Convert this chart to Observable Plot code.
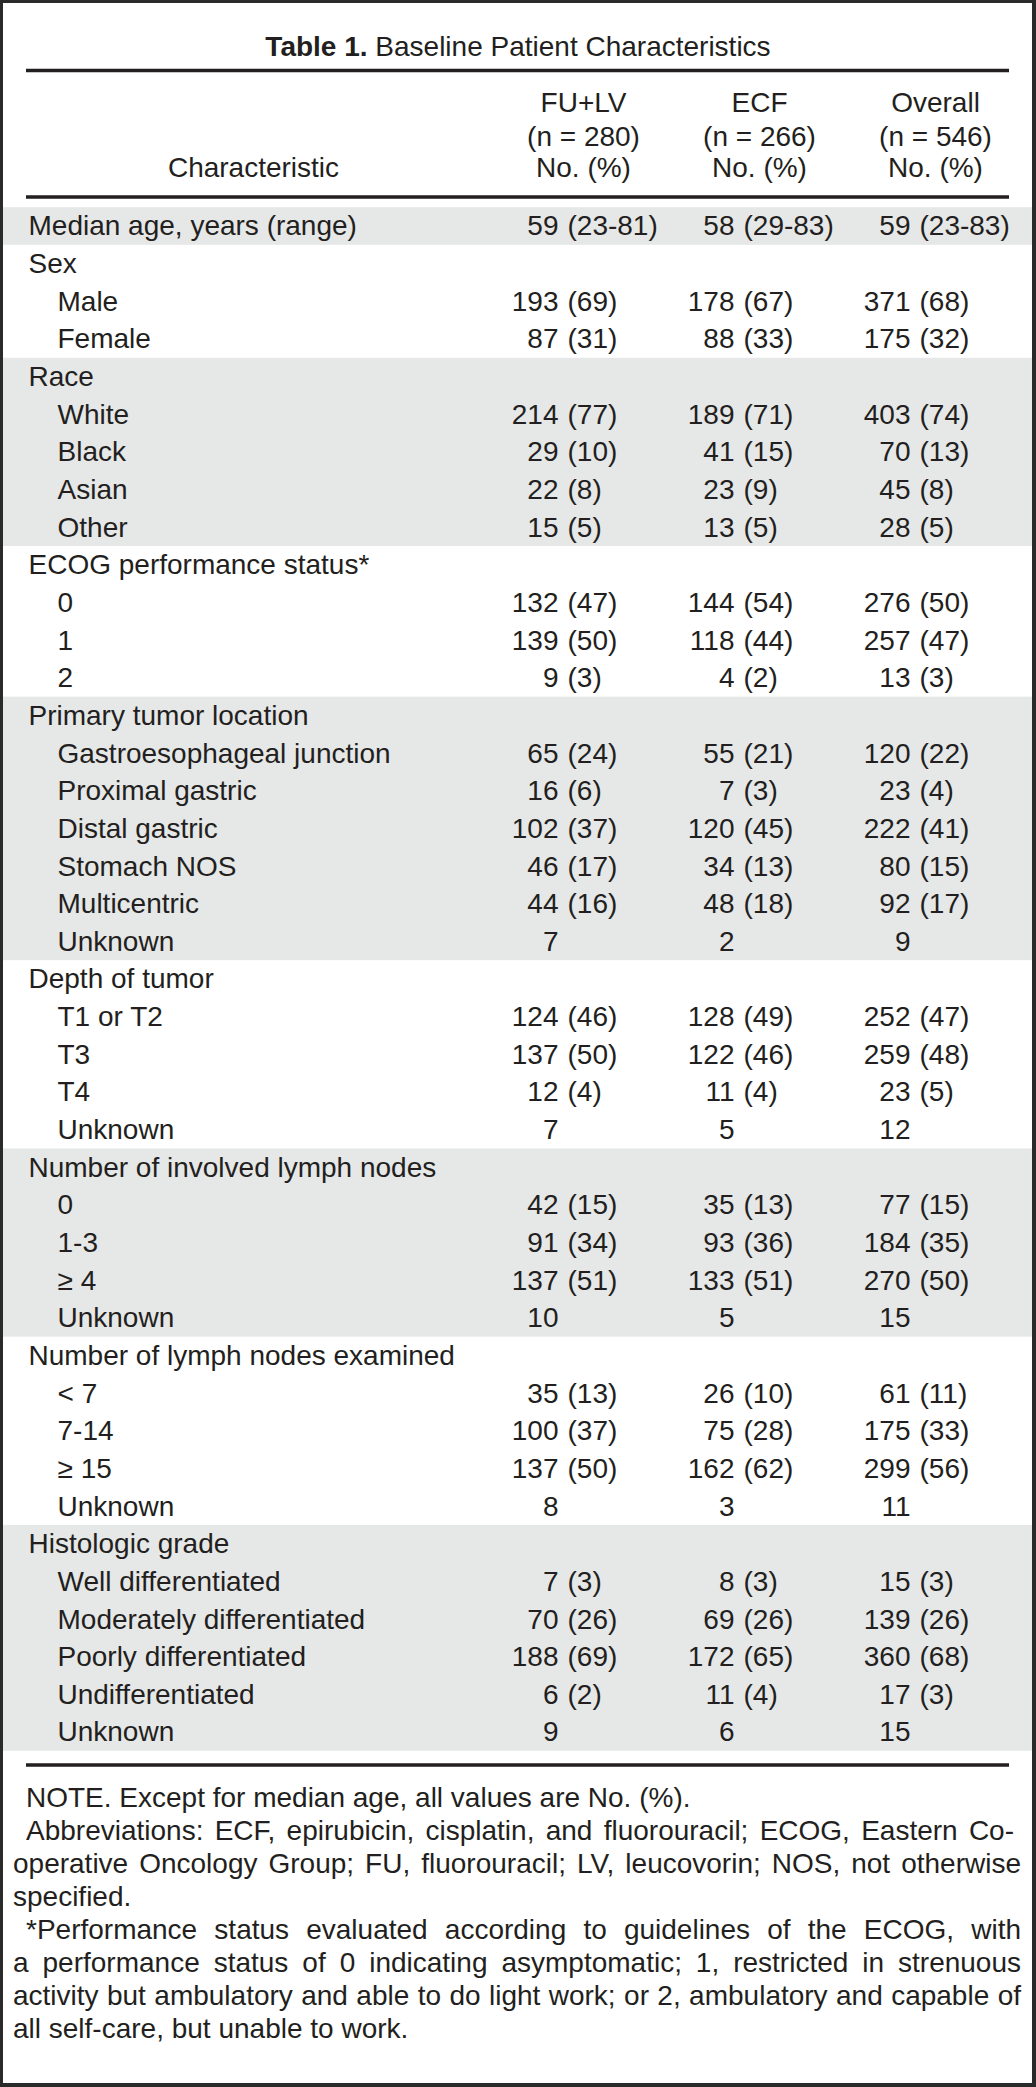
<!DOCTYPE html>
<html>
<head>
<meta charset="utf-8">
<script src="https://cdn.jsdelivr.net/npm/d3@7"></script>
<script src="https://cdn.jsdelivr.net/npm/@observablehq/plot@0.6"></script>
<style>
  html, body { margin: 0; padding: 0; background: #fff; }
  body { width: 1036px; height: 2087px; position: relative; overflow: hidden;
         font-family: "Liberation Sans", Arial, Helvetica, sans-serif; color: #231f20; }
  #frame { position: absolute; left: 0; top: 0; width: 1036px; height: 2087px; box-sizing: border-box;
           border-style: solid; border-color: #2a2a2a; border-width: 3px 4px 4px 3px; z-index: 5; pointer-events: none; }
  #title { position: absolute; left: 0; top: 33px; width: 1036px; text-align: center; font-size: 28px; line-height: 28px; }
  #title b { font-weight: bold; }
  #chart { position: absolute; left: 0; top: 62px; }
  #notes { position: absolute; left: 13px; top: 1781px; width: 1008px; font-size: 28px; line-height: 33px; }
  #notes div { white-space: normal; }
  #notes .j { text-align: justify; text-align-last: justify; }
  #notes .in { padding-left: 13px; }
  #notes .short { padding-right: 7px; }
</style>
</head>
<body>
<div id="title"><b>Table 1.</b> Baseline Patient Characteristics</div>
<div id="chart"></div>
<div id="notes">
  <div class="in">NOTE. Except for median age, all values are No. (%).</div>
  <div class="in j short">Abbreviations: ECF, epirubicin, cisplatin, and fluorouracil; ECOG, Eastern Co-</div>
  <div class="j">operative Oncology Group; FU, fluorouracil; LV, leucovorin; NOS, not otherwise</div>
  <div>specified.</div>
  <div class="in j">*Performance status evaluated according to guidelines of the ECOG, with</div>
  <div class="j">a performance status of 0 indicating asymptomatic; 1, restricted in strenuous</div>
  <div class="j">activity but ambulatory and able to do light work; or 2, ambulatory and capable of</div>
  <div>all self-care, but unable to work.</div>
</div>
<div id="frame"></div>
<script>
// ---- Data ----
const columns = ["FU+LV", "ECF", "Overall"];
const columnN = [280, 266, 546];

const characteristics = [
  "Median age, years (range)",
  "Sex", "Male", "Female",
  "Race", "White", "Black", "Asian", "Other",
  "ECOG performance status*", "0", "1", "2",
  "Primary tumor location", "Gastroesophageal junction", "Proximal gastric", "Distal gastric", "Stomach NOS", "Multicentric", "Unknown",
  "Depth of tumor", "T1 or T2", "T3", "T4", "Unknown",
  "Number of involved lymph nodes", "0", "1-3", "\u2265 4", "Unknown",
  "Number of lymph nodes examined", "< 7", "7-14", "\u2265 15", "Unknown",
  "Histologic grade", "Well differentiated", "Moderately differentiated", "Poorly differentiated", "Undifferentiated", "Unknown"
];
const rowKind = [
  "group",
  "group", "item", "item",
  "group", "item", "item", "item", "item",
  "group", "item", "item", "item",
  "group", "item", "item", "item", "item", "item", "item",
  "group", "item", "item", "item", "item",
  "group", "item", "item", "item", "item",
  "group", "item", "item", "item", "item",
  "group", "item", "item", "item", "item", "item"
];

const fuLvNo  = [59, null, 193, 87, null, 214, 29, 22, 15, null, 132, 139, 9, null, 65, 16, 102, 46, 44, 7, null, 124, 137, 12, 7, null, 42, 91, 137, 10, null, 35, 100, 137, 8, null, 7, 70, 188, 6, 9];
const fuLvPct = ["23-81", null, 69, 31, null, 77, 10, 8, 5, null, 47, 50, 3, null, 24, 6, 37, 17, 16, null, null, 46, 50, 4, null, null, 15, 34, 51, null, null, 13, 37, 50, null, null, 3, 26, 69, 2, null];

const ecfNo  = [58, null, 178, 88, null, 189, 41, 23, 13, null, 144, 118, 4, null, 55, 7, 120, 34, 48, 2, null, 128, 122, 11, 5, null, 35, 93, 133, 5, null, 26, 75, 162, 3, null, 8, 69, 172, 11, 6];
const ecfPct = ["29-83", null, 67, 33, null, 71, 15, 9, 5, null, 54, 44, 2, null, 21, 3, 45, 13, 18, null, null, 49, 46, 4, null, null, 13, 36, 51, null, null, 10, 28, 62, null, null, 3, 26, 65, 4, null];

const overallNo  = [59, null, 371, 175, null, 403, 70, 45, 28, null, 276, 257, 13, null, 120, 23, 222, 80, 92, 9, null, 252, 259, 23, 12, null, 77, 184, 270, 15, null, 61, 175, 299, 11, null, 15, 139, 360, 17, 15];
const overallPct = ["23-83", null, 68, 32, null, 74, 13, 8, 5, null, 50, 47, 3, null, 22, 4, 41, 15, 17, null, null, 47, 48, 5, null, null, 15, 35, 50, null, null, 11, 33, 56, null, null, 3, 26, 68, 3, null];

// ---- Build tables ----
const countsByCol = [fuLvNo, ecfNo, overallNo];
const pctByCol = [fuLvPct, ecfPct, overallPct];

const rows = characteristics.map((label, i) => ({i, label, kind: rowKind[i]}));
const cells = [];
rows.forEach(r => columns.forEach((c, j) => {
  const n = countsByCol[j][r.i];
  if (n != null) cells.push({i: r.i, col: c, n, pct: pctByCol[j][r.i]});
}));

// group bands (alternate shading, first group shaded)
const bands = [];
let g = -1;
rows.forEach(r => {
  if (r.kind === "group") { g++; bands.push({g, y1: r.i - 0.5, y2: r.i + 0.5}); }
  else bands[bands.length - 1].y2 = r.i + 0.5;
});
const shaded = bands.filter(b => b.g % 2 === 0);

// ---- Layout (in row units of the y scale) ----
const Y_TOP_RULE = -4.143, Y_HEAD1 = -3.267, Y_HEAD2 = -2.364, Y_HEAD3 = -1.540, Y_HEAD_RULE = -0.784, Y_BOTTOM_RULE = 40.863;
const ink = "#231f20";

const chart = Plot.plot({
  width: 1036,
  height: 1718,
  margin: 0,
  x: {type: "point", domain: columns, range: [557, 910], padding: 0, axis: null},
  y: {type: "linear", domain: [0, 40], range: [164, 164 + 40 * 37.65], axis: null},
  style: {fontFamily: '"Liberation Sans", Arial, Helvetica, sans-serif', fontSize: "28px", color: ink, background: "transparent", overflow: "visible"},
  marks: [
    Plot.rect(shaded, {y1: "y1", y2: "y2", fill: "#e6e7e7", insetLeft: 3, insetRight: 3}),
    Plot.ruleY([Y_TOP_RULE, Y_HEAD_RULE, Y_BOTTOM_RULE], {stroke: ink, strokeWidth: 3.5, insetLeft: 26, insetRight: 27}),
    // header
    Plot.text(columns, {x: d => d, y: () => Y_HEAD1, text: d => d, dx: 25, fill: ink}),
    Plot.text(columns, {x: d => d, y: () => Y_HEAD2, text: (d, i) => `(n = ${columnN[i]})`, dx: 25, fill: ink}),
    Plot.text(columns, {x: d => d, y: () => Y_HEAD3, text: () => "No. (%)", dx: 25, fill: ink}),
    Plot.text(["Characteristic"], {frameAnchor: "left", y: () => Y_HEAD3, text: d => d, dx: 253, textAnchor: "middle", fill: ink}),
    // row labels
    Plot.text(rows.filter(r => r.kind === "group"), {frameAnchor: "left", y: "i", text: "label", dx: 28, textAnchor: "start", fill: ink}),
    Plot.text(rows.filter(r => r.kind === "item"), {frameAnchor: "left", y: "i", text: "label", dx: 57, textAnchor: "start", fill: ink}),
    // values
    Plot.text(cells, {x: "col", y: "i", text: d => String(d.n), textAnchor: "end", fill: ink}),
    Plot.text(cells.filter(d => d.pct != null), {x: "col", y: "i", text: d => `(${d.pct})`, textAnchor: "start", dx: 9, fill: ink})
  ]
});
document.getElementById("chart").appendChild(chart);
</script>
</body>
</html>
